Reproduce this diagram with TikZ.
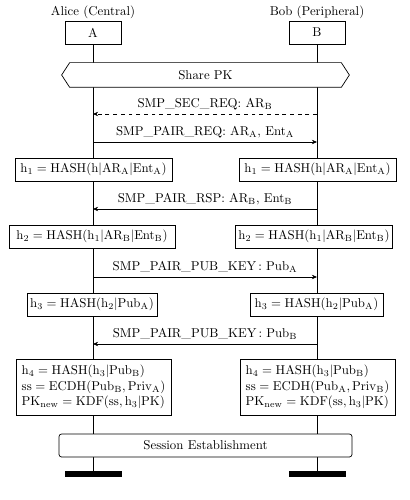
\documentclass[tikz,border=0pt]{standalone}
\usetikzlibrary{arrows.meta,calc}
\def\pu{0.78pt}
\tikzset{
  every path/.style={line width=0.55pt},
  box/.style={draw, fill=white, inner sep=2pt, minimum height=23*\pu},
  actor/.style={box, minimum width=56*\pu},
  bar/.style={fill=black, draw=none, minimum width=57*\pu, minimum height=6*\pu, inner sep=0pt},
  lifeline/.style={line width=0.55pt},
  msg/.style={-{Stealth[length=4pt,width=3.5pt]}, line width=0.55pt},
  lbl/.style={midway, above, inner sep=3pt}
}
\newcommand{\rmm}[1]{\mathrm{#1}}
\begin{document}
\begin{tikzpicture}[x=\pu, y=-\pu]
\useasboundingbox (0,0) rectangle (410,500);
% titles
\node (ta) at (93,12) {Alice (Central)};
\node (tb) at (317,12) {Bob (Peripheral)};
% actors
\node[actor] (A) at (93,32.5) {A};
\node[actor] (B) at (317,32.5) {B};
% end bars
\node[bar] (ea) at (93.5,474) {};
\node[bar] (eb) at (317,474) {};
% lifelines
\draw[lifeline] (A.south) -- (A.south |- ea.north);
\draw[lifeline] (B.south) -- (B.south |- eb.north);
% share PK hexagon
\node[minimum width=271*\pu, minimum height=24*\pu, inner sep=0pt] (spk) at (205.5,75) {};
\draw[fill=white, line width=0.55pt] ($(spk.west)+(-8,0)$) -- (spk.north west) -- (spk.north east) -- ($(spk.east)+(8,0)$) -- (spk.south east) -- (spk.south west) -- cycle;
\node (spkt) at (spk) {Share PK};
% message coordinates
\coordinate (a1) at (93,114);  \coordinate (b1) at (317,114);
\coordinate (a2) at (93,142);  \coordinate (b2) at (317,142);
\coordinate (a3) at (93,209);  \coordinate (b3) at (317,209);
\coordinate (a4) at (93,277);  \coordinate (b4) at (317,277);
\coordinate (a5) at (93,344);  \coordinate (b5) at (317,344);
\draw[msg, dashed] (b1) -- node[lbl] {SMP\_SEC\_REQ: AR$_\rmm{B}$} (a1);
\draw[msg] (a2) -- node[lbl] {SMP\_PAIR\_REQ: AR$_\rmm{A}$, Ent$_\rmm{A}$} (b2);
\draw[msg] (b3) -- node[lbl] {SMP\_PAIR\_RSP: AR$_\rmm{B}$, Ent$_\rmm{B}$} (a3);
\draw[msg] (a4) -- node[lbl] {SMP\_PAIR\_PUB\_KEY\,: Pub$_\rmm{A}$} (b4);
\draw[msg] (b5) -- node[lbl] {SMP\_PAIR\_PUB\_KEY\,: Pub$_\rmm{B}$} (a5);
% computation boxes
\node[box, minimum width=157*\pu] (h1l) at (93.5,169.5) {$\rmm{h}_1 = \rmm{HASH}(\rmm{h}|\rmm{AR}_\rmm{A}|\rmm{Ent}_\rmm{A})$};
\node[box, minimum width=157*\pu] (h1r) at (317.5,169.5) {$\rmm{h}_1 = \rmm{HASH}(\rmm{h}|\rmm{AR}_\rmm{A}|\rmm{Ent}_\rmm{A})$};
\node[box, minimum width=166*\pu] (h2l) at (92,236.5) {$\rmm{h}_2 = \rmm{HASH}(\rmm{h}_1|\rmm{AR}_\rmm{B}|\rmm{Ent}_\rmm{B})$};
\node[box, minimum width=157*\pu] (h2r) at (314,236.5) {$\rmm{h}_2 = \rmm{HASH}(\rmm{h}_1|\rmm{AR}_\rmm{B}|\rmm{Ent}_\rmm{B})$};
\node[box, minimum width=130*\pu] (h3l) at (92,304.5) {$\rmm{h}_3 = \rmm{HASH}(\rmm{h}_2|\rmm{Pub}_\rmm{A})$};
\node[box, minimum width=133*\pu] (h3r) at (316.5,304.5) {$\rmm{h}_3 = \rmm{HASH}(\rmm{h}_2|\rmm{Pub}_\rmm{A})$};
\node[box, minimum width=155*\pu, minimum height=56*\pu, align=left] (h4l) at (93.5,387) {$\rmm{h}_4 = \rmm{HASH}(\rmm{h}_3|\rmm{Pub}_\rmm{B})$\\$\rmm{ss} = \rmm{ECDH}(\rmm{Pub}_\rmm{B}, \rmm{Priv}_\rmm{A})$\\$\rmm{PK}_\rmm{new} = \rmm{KDF}(\rmm{ss}, \rmm{h}_3|\rmm{PK})$};
\node[box, minimum width=155*\pu, minimum height=56*\pu, align=left] (h4r) at (317.5,387) {$\rmm{h}_4 = \rmm{HASH}(\rmm{h}_3|\rmm{Pub}_\rmm{B})$\\$\rmm{ss} = \rmm{ECDH}(\rmm{Pub}_\rmm{A}, \rmm{Priv}_\rmm{B})$\\$\rmm{PK}_\rmm{new} = \rmm{KDF}(\rmm{ss}, \rmm{h}_3|\rmm{PK})$};
% session
\node[box, rounded corners=2pt, minimum width=293*\pu] (se) at (205.5,445.5) {Session Establishment};
\end{tikzpicture}
\end{document}
